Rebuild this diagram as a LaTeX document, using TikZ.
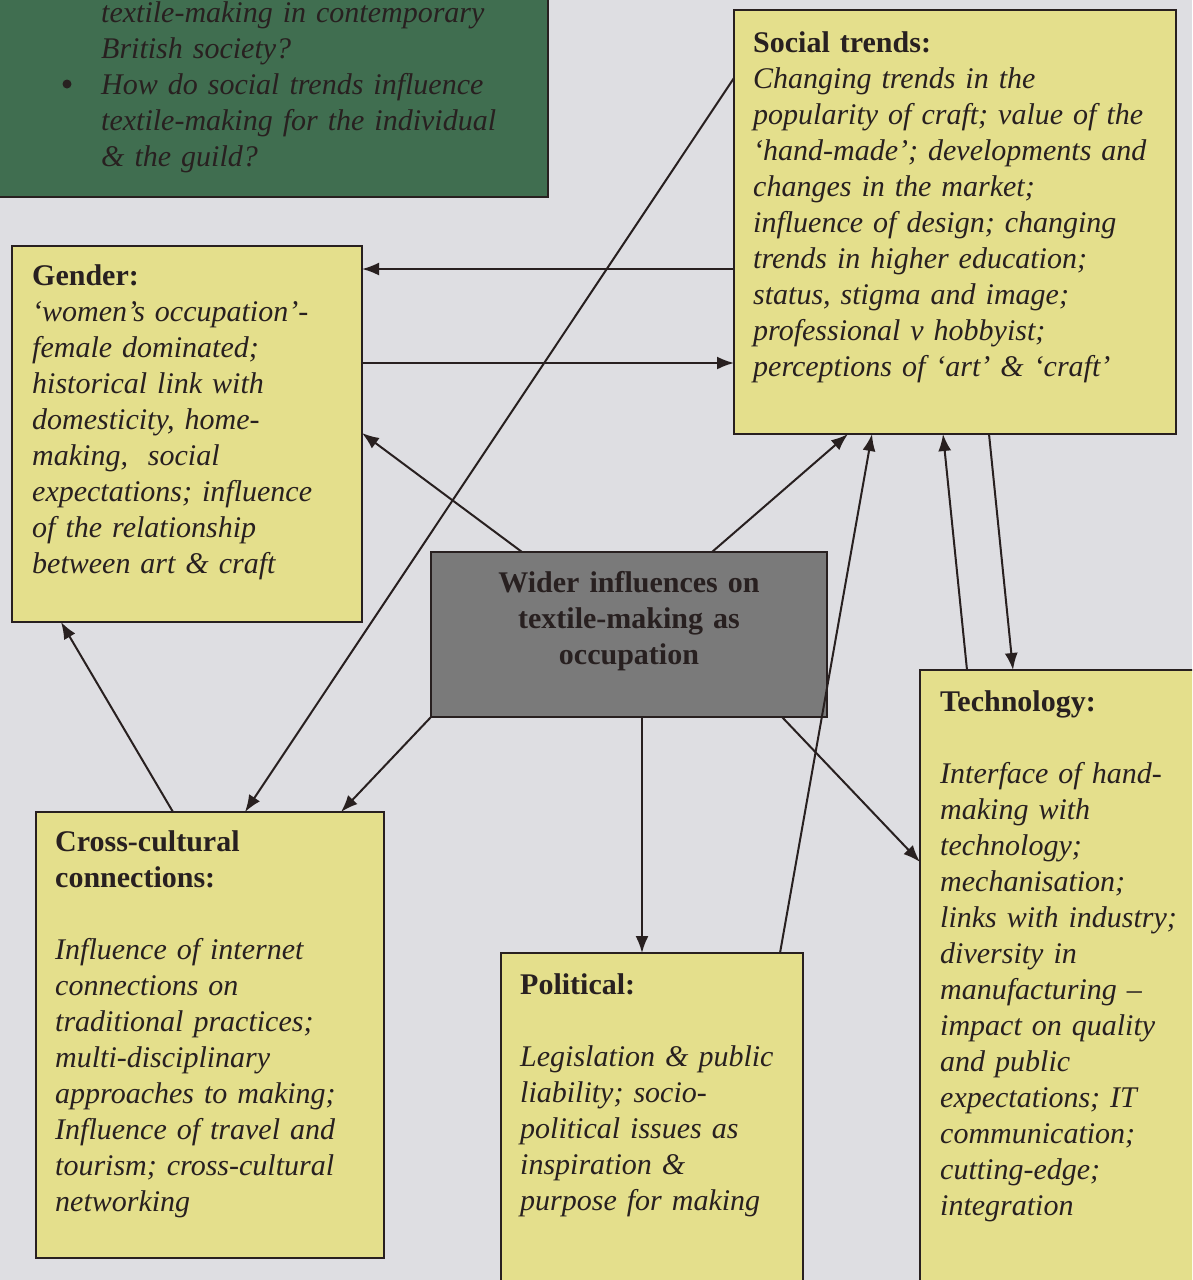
\documentclass[tikz,border=0pt]{standalone}
\usepackage{fontspec}
\setmainfont{Liberation Serif}
\usetikzlibrary{arrows.meta,calc}
\definecolor{bg}{RGB}{222,222,226}
\definecolor{yel}{RGB}{228,223,140}
\definecolor{grn}{RGB}{64,110,80}
\definecolor{gry}{RGB}{122,122,122}
\definecolor{ink}{RGB}{40,32,32}
\begin{document}
\begin{tikzpicture}[x=1pt,y=-1pt,
  box/.style={draw=ink, line width=1.8pt, anchor=north west, outer sep=0pt, inner sep=0pt},
  ybox/.style={box, fill=yel},
  txt/.style={anchor=base west, align=left, text width=460pt, inner sep=0pt, text=ink, font=\fontsize{30}{36}\selectfont},
  arr/.style={draw=ink, line width=2pt, -{Latex[length=17pt,width=13pt]}}]
\clip (0,0) rectangle (1192,1280);
\fill[bg] (0,0) rectangle (1192,1280);
\useasboundingbox (0,0) rectangle (1192,1280);

% boxes
\node[box, fill=grn, minimum width=568, minimum height=218] (green) at (-20,-21) {};
\node[ybox, minimum width=442, minimum height=424] (social) at (734,10) {};
\node[ybox, minimum width=350, minimum height=376] (gender) at (12,246) {};
\node[box, fill=gry, minimum width=396, minimum height=165] (center) at (431,552) {};
\node[ybox, minimum width=290, minimum height=640] (tech) at (920,670) {};
\node[ybox, minimum width=348, minimum height=446] (cross) at (36,812) {};
\node[ybox, minimum width=302, minimum height=350] (pol) at (501,953) {};

% connectors
\draw[arr] ($(social.north west)+(0,259)$) -- ($(gender.north east)+(0,23)$);
\draw[arr] ($(gender.north east)+(0,117)$) -- ($(social.north west)+(0,353)$);
\draw[arr] ($(social.north west)+(0,68)$) -- ($(cross.north west)+(209,0)$);
\draw[arr] ($(center.north west)+(91,0)$) -- ($(gender.north east)+(0,187)$);
\draw[arr] ($(center.north west)+(281,0)$) -- ($(social.south west)+(114,0)$);
\draw[arr] ($(pol.north west)+(279,0)$) -- ($(social.south west)+(138,0)$);
\draw[arr] ($(tech.north west)+(47,0)$) -- ($(social.south west)+(209,0)$);
\draw[arr] ($(social.south west)+(255,0)$) -- ($(tech.north west)+(93,0)$);
\draw[arr] ($(cross.north west)+(137,0)$) -- ($(gender.south west)+(49,0)$);
\draw[arr] (center.south west) -- ($(cross.north west)+(305,0)$);
\draw[arr] ($(center.south west)+(211,0)$) -- ($(pol.north west)+(141,0)$);
\draw[arr] ($(center.south west)+(351,0)$) -- ($(tech.north west)+(0,192)$);

% texts
\node[txt] (greentxt) at (101,22) {\textit{textile-making in contemporary}\\
\textit{British society?}\\
\textit{How do social trends influence}\\
\textit{textile-making for the individual}\\
\textit{\& the guild?}};
\node[circle, fill=ink, inner sep=0pt, minimum size=9pt] (bullet) at (67,84) {};

\node[txt] (socialtxt) at (753,52) {\textbf{Social trends:}\\
\textit{Changing trends in the}\\
\textit{popularity of craft; value of the}\\
\textit{‘hand-made’; developments and}\\
\textit{changes in the market;}\\
\textit{influence of design; changing}\\
\textit{trends in higher education;}\\
\textit{status, stigma and image;}\\
\textit{professional v hobbyist;}\\
\textit{perceptions of ‘art’ \& ‘craft’}};

\node[txt] (gendertxt) at (32,285) {\textbf{Gender:}\\
\textit{‘women’s occupation’-}\\
\textit{female dominated;}\\
\textit{historical link with}\\
\textit{domesticity, home-}\\
\textit{making,\ \ social}\\
\textit{expectations; influence}\\
\textit{of the relationship}\\
\textit{between art \& craft}};

\node[anchor=base, align=center, text width=390pt, inner sep=0pt, text=ink, font=\fontsize{30}{36}\selectfont\bfseries] (centertxt) at (629,592) {Wider influences on\\textile-making as\\occupation};

\node[txt] (techtxt) at (940,711) {\textbf{Technology:}\\[36pt]
\textit{Interface of hand-}\\
\textit{making with}\\
\textit{technology;}\\
\textit{mechanisation;}\\
\textit{links with industry;}\\
\textit{diversity in}\\
\textit{manufacturing –}\\
\textit{impact on quality}\\
\textit{and public}\\
\textit{expectations; IT}\\
\textit{communication;}\\
\textit{cutting-edge;}\\
\textit{integration}};

\node[txt] (crosstxt) at (55,851) {\textbf{Cross-cultural}\\
\textbf{connections:}\\[36pt]
\textit{Influence of internet}\\
\textit{connections on}\\
\textit{traditional practices;}\\
\textit{multi-disciplinary}\\
\textit{approaches to making;}\\
\textit{Influence of travel and}\\
\textit{tourism; cross-cultural}\\
\textit{networking}};

\node[txt] (poltxt) at (520,994) {\textbf{Political:}\\[36pt]
\textit{Legislation \& public}\\
\textit{liability; socio-}\\
\textit{political issues as}\\
\textit{inspiration \&}\\
\textit{purpose for making}};
\end{tikzpicture}
\end{document}
